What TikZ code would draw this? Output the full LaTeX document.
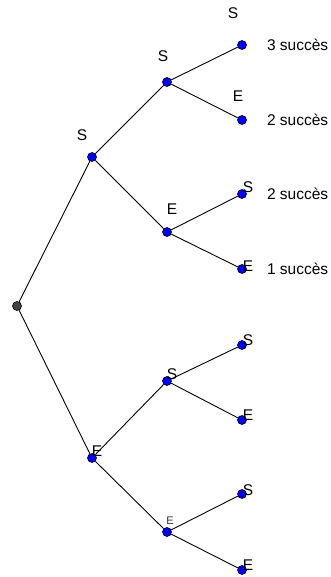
\documentclass[tikz,border=0pt]{standalone}
\usepackage{fontspec}
\setmainfont{Liberation Sans}
\usetikzlibrary{positioning}
\definecolor{dotBlue}{HTML}{0000FF}
\definecolor{rootGray}{HTML}{444444}
\definecolor{tagGray}{HTML}{333333}

\tikzset{
  dotnode/.style={circle,draw=black,fill=dotBlue,inner sep=0pt,minimum size=9pt,line width=0.6pt},
  rootnode/.style={dotnode,fill=rootGray},
  lbl/.style={font=\fontsize{15.5}{15.5}\selectfont,inner sep=0pt},
  smalllbl/.style={font=\fontsize{11}{11}\selectfont,inner sep=0pt,text=tagGray},
  res/.style={lbl,anchor=west},
  branch/.style={line width=0.9pt}
}

\begin{document}
\begin{tikzpicture}[x=1pt,y=-1pt]
    \useasboundingbox (0,0) rectangle (331,577);
    % tree nodes
    \node[rootnode] (r) at (17,306) {};
    \node[dotnode] (s) at (92,157) {};
    \node[dotnode] (e) at (92,458) {};
    \node[dotnode] (ss) at (167,82) {};
    \node[dotnode] (se) at (167,232) {};
    \node[dotnode] (es) at (167,381) {};
    \node[dotnode] (ee) at (167,532) {};
    \node[dotnode] (sss) at (242,45) {};
    \node[dotnode] (sse) at (242,120) {};
    \node[dotnode] (ses) at (242,194) {};
    \node[dotnode] (see) at (242,269) {};
    \node[dotnode] (ess) at (242,345) {};
    \node[dotnode] (ese) at (242,420) {};
    \node[dotnode] (ees) at (242,494) {};
    \node[dotnode] (eee) at (242,570) {};
    % branches
    \draw[branch] (r) -- (s);
    \draw[branch] (r) -- (e);
    \draw[branch] (s) -- (ss);
    \draw[branch] (s) -- (se);
    \draw[branch] (e) -- (es);
    \draw[branch] (e) -- (ee);
    \draw[branch] (ss) -- (sss);
    \draw[branch] (ss) -- (sse);
    \draw[branch] (se) -- (ses);
    \draw[branch] (se) -- (see);
    \draw[branch] (es) -- (ess);
    \draw[branch] (es) -- (ese);
    \draw[branch] (ee) -- (ees);
    \draw[branch] (ee) -- (eee);
    % letters
    \node[lbl] (ls) at (82,135) {S};
    \node[lbl] (le) at (97,451) {E};
    \node[lbl] (lss) at (163,56) {S};
    \node[lbl] (lse) at (172,209) {E};
    \node[lbl] (les) at (172,374) {S};
    \node[smalllbl] (lee) at (170,521) {E};
    \node[lbl] (lsss) at (233,13) {S};
    \node[lbl] (lsse) at (238,96) {E};
    \node[lbl] (lses) at (248,187) {S};
    \node[lbl] (lsee) at (248,266) {E};
    \node[lbl] (less) at (248,340) {S};
    \node[lbl] (lese) at (248,415) {E};
    \node[lbl] (lees) at (248,490) {S};
    \node[lbl] (leee) at (248,565) {E};
    % results
    \node[res,right=20pt of sss] (n1) {3 succès};
    \node[res,right=20pt of sse] (n2) {2 succès};
    \node[res,right=20pt of ses] (n3) {2 succès};
    \node[res,right=20pt of see] (n4) {1 succès};
\end{tikzpicture}
\end{document}
